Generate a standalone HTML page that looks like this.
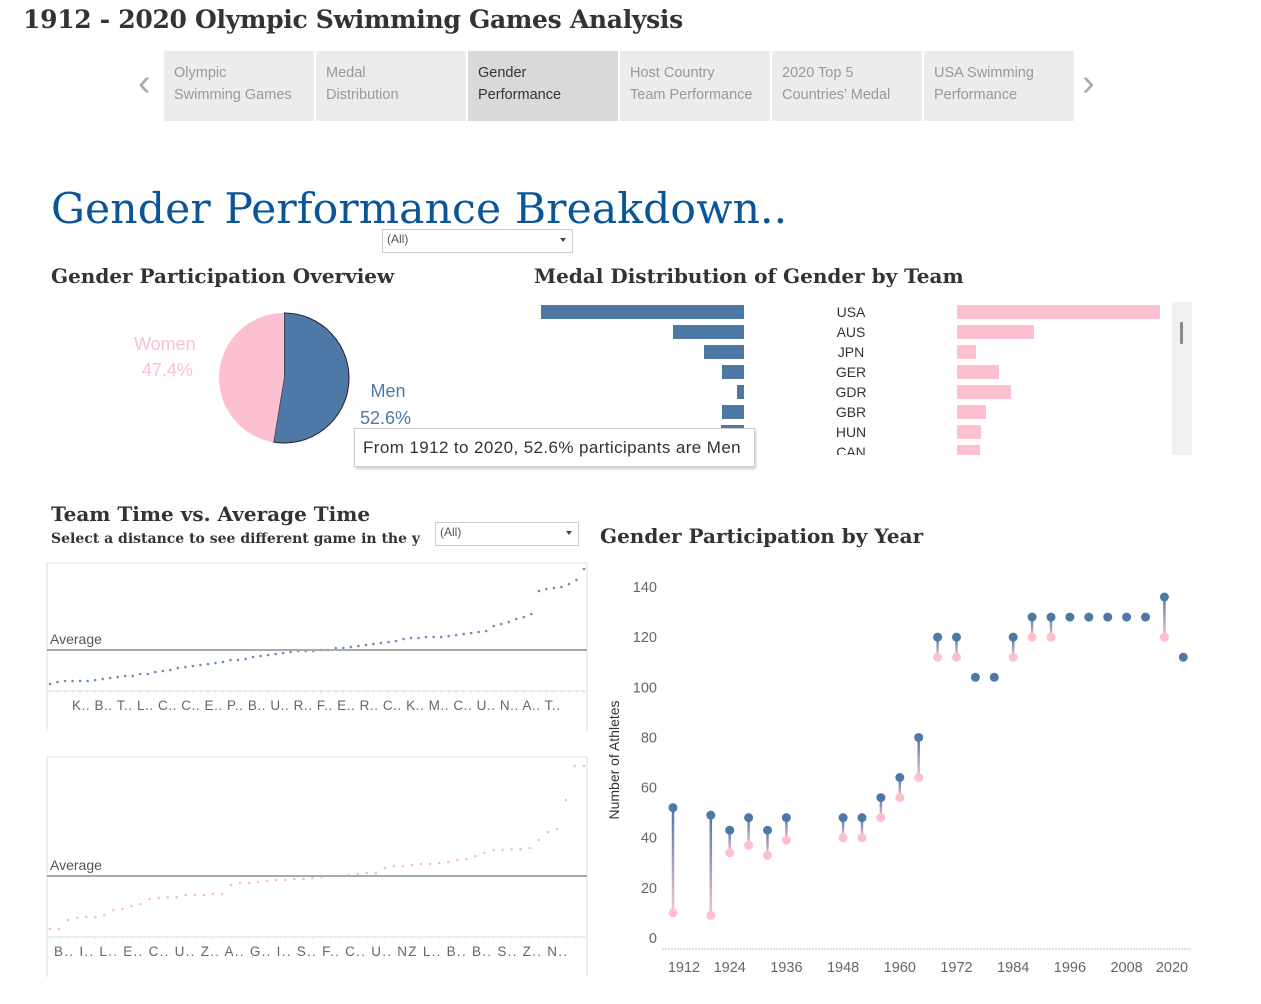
<!DOCTYPE html>
<html><head><meta charset="utf-8">
<style>
body{margin:0;width:1261px;height:1004px;background:#fff;position:relative;overflow:hidden;font-family:"Liberation Sans",sans-serif;}
.abs{position:absolute;}
.serif{font-family:"DejaVu Serif","Liberation Serif",serif;color:#333;font-weight:bold;}
.tab{position:absolute;top:51px;width:150px;height:70px;background:#ececec;color:#999;font-size:14.5px;line-height:22px;box-sizing:border-box;padding:11px 10px;}
.tab.sel{background:#d9d9d9;color:#333;}
.dd{position:absolute;border:1px solid #ccc;background:#fff;font-size:12px;color:#555;box-sizing:border-box;padding:2px 4px;}
.dd:after{content:"";position:absolute;right:6px;top:8px;border-left:3.5px solid transparent;border-right:3.5px solid transparent;border-top:4px solid #444;}
</style></head><body>
<div class="abs serif" style="left:23px;top:5px;font-size:25px;letter-spacing:-0.3px;">1912 - 2020 Olympic Swimming Games Analysis</div>
<div class="abs" style="left:138px;top:62px;font-size:38px;color:#aaa;">&#8249;</div>
<div class="tab" style="left:164px">Olympic<br>Swimming Games</div>
<div class="tab" style="left:316px">Medal<br>Distribution</div>
<div class="tab sel" style="left:468px">Gender<br>Performance</div>
<div class="tab" style="left:620px">Host Country<br>Team Performance</div>
<div class="tab" style="left:772px">2020 Top 5<br>Countries’ Medal</div>
<div class="tab" style="left:924px">USA Swimming<br>Performance</div>
<div class="abs" style="left:1082px;top:62px;font-size:38px;color:#aaa;">&#8250;</div>

<div class="abs" style="left:51px;top:185px;font-family:'DejaVu Serif',serif;font-size:42.5px;color:#0a5597;letter-spacing:0.1px;">Gender Performance Breakdown..</div>
<div class="dd" style="left:382px;top:229px;width:191px;height:24px;">(All)</div>

<div class="abs serif" style="left:51px;top:264px;font-size:20px;">Gender Participation Overview</div>
<div class="abs serif" style="left:534px;top:264px;font-size:20px;">Medal Distribution of Gender by Team</div>
<div class="abs" style="left:134px;top:331px;font-size:18px;color:#fcc0d0;text-align:center;line-height:26px;">Women<br><span style="padding-left:5px">47.4%</span></div>
<div class="abs" style="left:360px;top:378px;font-size:18px;color:#4e79a7;text-align:center;line-height:27px;">&nbsp;Men<br>52.6%</div>

<div class="abs serif" style="left:51px;top:502px;font-size:20px;">Team Time vs. Average Time</div>
<div class="abs serif" style="left:51px;top:531px;font-size:14px;">Select a distance to see different game in the y</div>
<div class="dd" style="left:435px;top:522px;width:144px;height:24px;">(All)</div>
<div class="abs serif" style="left:600px;top:524px;font-size:20px;">Gender Participation by Year</div>

<svg class="abs" style="left:0;top:0" width="1261" height="1004" id="svg"></svg>

<div class="abs" style="left:354px;top:428px;width:401px;height:39px;background:#fff;border:1px solid #ccc;box-shadow:1px 2px 3px rgba(0,0,0,0.2);box-sizing:border-box;padding:9px 8px;font-size:17px;letter-spacing:0.4px;color:#333;white-space:nowrap;">From 1912 to 2020, 52.6% participants are Men</div>

<script>
// ---- data ----
const pieShares = [52.6, 47.4];
const teams = ["USA","AUS","JPN","GER","GDR","GBR","HUN","CAN"];
const menMedals = [203, 71, 40, 22, 7, 22, 23, 0];
const womenMedals = [203, 77, 19, 42, 54, 29, 24, 23];
const topTimes = [11,13,14,14,14,14,15,16,17,18,19,19,21,21,23,24,25,27,28,29,30,31,32,33,35,35,36,38,39,40,41,42,43,44,44,44,45,45,47,47,48,49,50,51,52,53,54,56,57,57,58,58,58,59,60,61,62,63,64,69,71,73,76,78,81,104,106,107,108,111,115,126];
const topAverage = 45;
const topLabels = ["K..","B..","T..","L..","C..","C..","E..","P..","B..","U..","R..","F..","E..","R..","C..","K..","M..","C..","U..","N..","A..","T.."];
const botTimes = [26,26,35,37,38,38,40,45,46,49,51,56,57,58,58,60,60,60,61,61,70,72,72,73,74,75,75,76,76,77,78,79,79,80,81,82,82,87,89,89,90,91,91,92,93,95,96,99,102,105,105,106,106,107,115,123,126,155,189,189];
const botAverage = 79;
const botLabels = ["B..","I..","L..","E..","C..","U..","Z..","A..","G..","I..","S..","F..","C..","U..","NZ","L..","B..","B..","S..","Z..","N.."];
const years = [1912,1920,1924,1928,1932,1936,1948,1952,1956,1960,1964,1968,1972,1976,1980,1984,1988,1992,1996,2000,2004,2008,2012,2016,2020];
const menCount = [52,49,43,48,43,48,48,48,56,64,80,120,120,104,104,120,128,128,128,128,128,128,128,136,112];
const womenCount = [10,9,34,37,33,39,40,40,48,56,64,112,112,104,104,112,120,120,128,128,128,128,128,120,112];
const yTicks = [0,20,40,60,80,100,120,140];
const xTickYears = [1912,1924,1936,1948,1960,1972,1984,1996,2008,2020];

const svg = document.getElementById('svg');
const NS = 'http://www.w3.org/2000/svg';
function mk(tag, attrs, parent){const e=document.createElementNS(NS,tag);for(const k in attrs)e.setAttribute(k,attrs[k]);(parent||svg).appendChild(e);return e;}
const BLUE='#4e79a7', PINK='#fcc0d0';

// ---- pie ----
(function(){
  const cx=284, cy=378, r=65; let a0=0; const tot=pieShares.reduce((s,v)=>s+v,0);
  const cols=[BLUE,PINK], names=['pie-slice-men','pie-slice-women'];
  pieShares.forEach((v,i)=>{
    const a1=a0+v/tot*2*Math.PI;
    const x0=cx+r*Math.sin(a0), y0=cy-r*Math.cos(a0), x1=cx+r*Math.sin(a1), y1=cy-r*Math.cos(a1);
    const p=mk('path',{d:`M${cx},${cy}L${x0},${y0}A${r},${r} 0 ${a1-a0>Math.PI?1:0} 1 ${x1},${y1}Z`,fill:cols[i],stroke:i==0?'#222':'none','stroke-width':1});
    
    
    a0=a1;
  });
})();

// ---- medal bars ----
(function(){
  const maxV=Math.max(...menMedals,...womenMedals), W=203;
  const g=mk('g',{'clip-path':'url(#barclip)'});
  const cp=mk('clipPath',{id:'barclip'}); mk('rect',{x:500,y:300,width:680,height:155},cp);
  teams.forEach((t,i)=>{
    const y=305+i*20;
    const wm=menMedals[i]/maxV*W;
    const b1=mk('rect',{x:744-wm,y:y,width:wm,height:14,fill:BLUE},g);
    
    
    const ww=womenMedals[i]/maxV*W;
    const b2=mk('rect',{x:957,y:y,width:ww,height:14,fill:PINK},g);
    
    
    const tx=mk('text',{x:851,y:y+12,'text-anchor':'middle','font-size':14,fill:'#333','font-family':'Liberation Sans'},g);
    tx.textContent=t;
    
    
  });
  const sb=mk('rect',{x:1172,y:302,width:20,height:153,fill:'#f0f0f0'});
  
  
  mk('rect',{x:1180,y:322,width:3,height:22,fill:'#888',rx:1});
})();

// ---- team time panels ----
function panel(vals, avg, labels, top, bottom, axisY, yOf, color, name){
  const L=47, R=587;
  mk('line',{x1:L,y1:top,x2:R,y2:top,stroke:'#ddd'});
  mk('line',{x1:L,y1:top,x2:L,y2:bottom,stroke:'#ddd'});
  mk('line',{x1:R,y1:top,x2:R,y2:bottom,stroke:'#ddd'});
  mk('line',{x1:L,y1:axisY,x2:R,y2:axisY,stroke:'#ddd'});
  const n=vals.length, x0=50, x1=584;
  for(let i=0;i<n;i++){
    const x=x0+(x1-x0)*i/(n-1);
    mk('line',{x1:x,y1:axisY,x2:x,y2:axisY+3,stroke:'#e6e6e6'});
    const c=mk('circle',{cx:x,cy:yOf(vals[i]),r:1.3,fill:color});
    
    
  }
  const ay=yOf(avg);
  const al=mk('line',{x1:L,y1:ay,x2:R,y2:ay,stroke:'#aaa','stroke-width':2});
  
  
  const at=mk('text',{x:50,y:ay-6,'font-size':14,fill:'#555','font-family':'Liberation Sans'});
  at.textContent='Average';
  
  
  const lt=mk('text',{x:(name=='men-time'?72:54),y:axisY+19,'font-size':13.5,fill:'#666','font-family':'Liberation Sans','textLength':(name=='men-time'?488:513)});
  lt.textContent=labels.join(' ');
  
  
}
panel(topTimes, topAverage, topLabels, 563, 731, 691, v=>695-v, '#6b8fb5', 'men-time');
panel(botTimes, botAverage, botLabels, 757, 977, 937, v=>955-v, '#f6bccb', 'women-time');

// ---- dumbbell by year ----
(function(){
  const xOf=y=>673+(y-1912)/4*18.9, yOf=v=>938-v*2.507;
  yTicks.forEach(t=>{
    const tx=mk('text',{x:657,y:yOf(t)+5,'text-anchor':'end','font-size':14.5,fill:'#666','font-family':'Liberation Sans'});
    tx.textContent=t;
    
    
  });
  const yt=mk('text',{transform:'translate(619,760) rotate(-90)','text-anchor':'middle','font-size':14,fill:'#333','font-family':'Liberation Sans'});
  yt.textContent='Number of Athletes';
  
  
  mk('line',{x1:662,y1:949,x2:1191,y2:949,stroke:'#bbb','stroke-dasharray':'2,1'});
  xTickYears.forEach(y=>{
    const x=Math.min(Math.max(xOf(y),684),1172);
    const tx=mk('text',{x:x,y:972,'text-anchor':'middle','font-size':14.5,fill:'#666','font-family':'Liberation Sans'});
    tx.textContent=y;
    
    
  });
  const defs=mk('defs',{});
  years.forEach((yr,i)=>{
    const x=xOf(yr), ym=yOf(menCount[i]), yw=yOf(womenCount[i]);
    if(ym!==yw){
      const gid='g'+i;
      const lg=mk('linearGradient',{id:gid,gradientUnits:'userSpaceOnUse',x1:x,y1:ym,x2:x,y2:yw},defs);
      mk('stop',{offset:0,'stop-color':BLUE},lg); mk('stop',{offset:1,'stop-color':PINK},lg);
      const ln=mk('line',{x1:x,y1:ym,x2:x,y2:yw,stroke:'url(#'+gid+')','stroke-width':2.5});
      
      
      const cw=mk('circle',{cx:x,cy:yw,r:4.5,fill:PINK});
      
      
    }
    const cm=mk('circle',{cx:x,cy:ym,r:4.5,fill:BLUE});
    
    
  });
})();
</script>
</body></html>
